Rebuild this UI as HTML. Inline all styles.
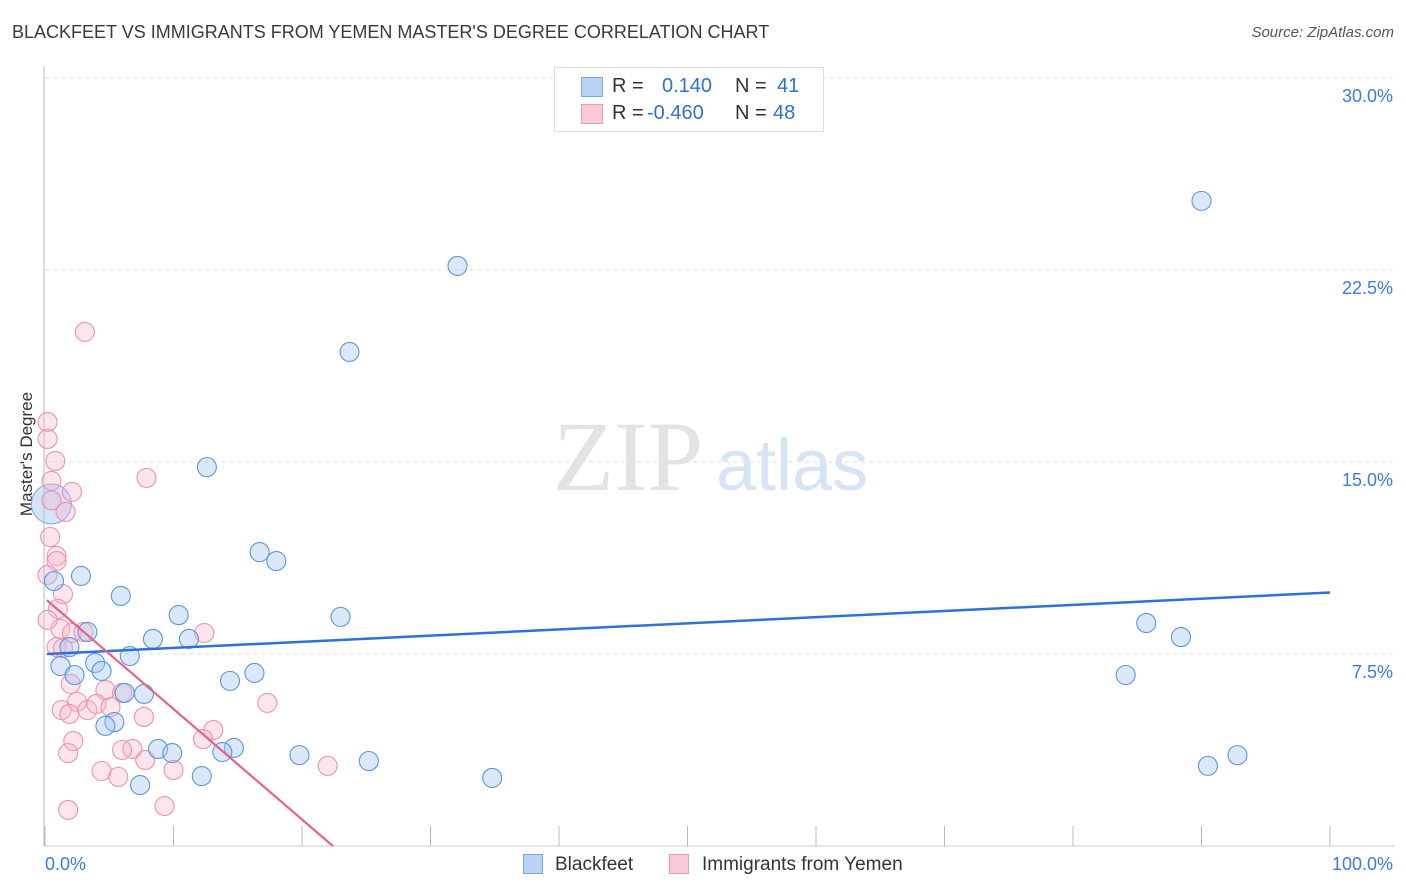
<!DOCTYPE html>
<html><head><meta charset="utf-8"><style>
body{margin:0;background:#fff;font-family:"Liberation Sans",sans-serif;}
#wrap{position:relative;width:1406px;height:892px;overflow:hidden;}
.t{position:absolute;white-space:nowrap;}
</style></head><body>
<div id="wrap">
<div class="t" style="left:12px;top:22px;font-size:18px;color:#3a3a3a;">BLACKFEET VS IMMIGRANTS FROM YEMEN MASTER'S DEGREE CORRELATION CHART</div>
<div class="t" style="right:12px;top:24px;font-size:15px;color:#555;font-style:italic;">Source: ZipAtlas.com</div>
<div class="t" style="left:-35px;top:444px;font-size:17px;color:#333;transform:rotate(-90deg);">Master's Degree</div>
<svg id="plot" width="1406" height="892" style="position:absolute;left:0;top:0"></svg>
<div style="position:absolute;left:554px;top:67px;width:268px;height:63px;border:1px solid #ddd;background:#fff;font-size:20px;">
 <div style="position:absolute;left:26px;top:9px;width:20px;height:18px;background:#b9d3f5;border:1px solid #7aa9e6;"></div>
 <div class="t" style="left:57px;top:7px;color:#333">R =</div>
 <div class="t" style="left:107px;top:7px;color:#2f6fd6">0.140</div>
 <div class="t" style="left:180px;top:7px;color:#333">N =</div>
 <div class="t" style="left:222px;top:7px;color:#2f6fd6">41</div>
 <div style="position:absolute;left:26px;top:36px;width:20px;height:18px;background:#f8c9d6;border:1px solid #ee9ab2;"></div>
 <div class="t" style="left:57px;top:34px;color:#333">R =</div>
 <div class="t" style="left:92px;top:34px;color:#2f6fd6">-0.460</div>
 <div class="t" style="left:180px;top:34px;color:#333">N =</div>
 <div class="t" style="left:218px;top:34px;color:#2f6fd6">48</div>
</div>
<div style="position:absolute;left:523px;top:854px;width:20px;height:20px;background:#b9d3f5;border:1px solid #7aa9e6;box-sizing:border-box"></div>
<div class="t" style="left:555px;top:854px;font-size:19px;color:#333">Blackfeet</div>
<div style="position:absolute;left:669px;top:854px;width:20px;height:20px;background:#f8c9d6;border:1px solid #ee9ab2;box-sizing:border-box"></div>
<div class="t" style="left:702px;top:854px;font-size:19px;color:#333">Immigrants from Yemen</div>
</div>
<script>
const blueX=[32.1,23.7,90.0,12.6,16.7,18.0,2.8,0.7,5.9,10.4,23.0,8.4,11.2,3.3,1.9,6.6,1.2,3.9,4.4,2.3,16.3,14.4,6.2,7.7,5.4,4.7,8.8,9.9,14.7,13.8,19.8,25.2,12.2,7.4,34.8,85.7,88.4,84.1,90.5,92.8];
const blueY=[22.66,19.3,25.2,14.8,11.48,11.13,10.55,10.35,9.77,9.02,8.95,8.09,8.09,8.36,7.77,7.42,7.03,7.15,6.84,6.68,6.76,6.45,5.98,5.94,4.84,4.69,3.79,3.63,3.83,3.67,3.55,3.32,2.73,2.38,2.66,8.71,8.16,6.68,3.13,3.55];
const bigBlue=[0.5,13.36];
const pinkX=[3.1,0.2,0.2,0.8,0.5,2.1,1.6,0.4,0.9,0.9,0.2,1.4,1.0,7.9,1.2,2.1,0.9,12.4,1.4,3.0,2.0,4.7,6.0,2.5,1.3,1.9,3.3,4.0,5.1,17.3,7.7,13.1,12.3,2.2,1.8,6.8,6.0,7.8,10.0,4.4,5.7,22.0,1.8,9.3,0.5,0.2];
const pinkY=[20.08,16.56,15.9,15.04,14.26,13.83,13.05,12.07,11.33,11.13,10.59,9.84,9.26,14.38,8.48,8.32,7.77,8.32,7.73,8.36,6.33,6.09,5.98,5.63,5.31,5.16,5.31,5.55,5.43,5.59,5.04,4.53,4.18,4.10,3.63,3.79,3.75,3.36,2.97,2.93,2.70,3.13,1.41,1.56,13.5,8.83];
const blueTrend=[[0.15,7.5],[100,9.9]];
const pinkTrend=[[0.15,9.6],[22.4,0]];
const yTicks=[7.5,15,22.5,30];
const yTickLabels=["7.5%","15.0%","22.5%","30.0%"];
const xTicks=[0,10,20,30,40,50,60,70,80,90,100];
const xs=v=>45+v*12.85, ys=v=>846-v*25.6;
const svg=document.getElementById('plot'),NS='http://www.w3.org/2000/svg';
function mk(tag,a,name){const e=document.createElementNS(NS,tag);for(const k in a)e.setAttribute(k,a[k]);


svg.appendChild(e);return e;}
yTicks.forEach((v,i)=>{mk('line',{x1:45,x2:1395,y1:ys(v),y2:ys(v),stroke:'#ddd','stroke-dasharray':'4,4'},'gridline');
const t=mk('text',{x:1393,y:ys(v)+24,'text-anchor':'end','font-size':18,fill:'#3d7bd9','font-family':'Liberation Sans'},'y-tick-label');t.textContent=yTickLabels[i];});
mk('line',{x1:44,x2:44,y1:66,y2:846,stroke:'#bbb'},'y-axis');
mk('line',{x1:44,x2:1395,y1:846,y2:846,stroke:'#ccc'},'x-axis');
xTicks.forEach(v=>mk('line',{x1:xs(v),x2:xs(v),y1:826,y2:846,stroke:'#bbb'},'x-tick'));
let t=mk('text',{x:45,y:870,'font-size':18,fill:'#3d7bd9','font-family':'Liberation Sans'},'x-tick-label');t.textContent='0.0%';
t=mk('text',{x:1393,y:870,'text-anchor':'end','font-size':18,fill:'#3d7bd9','font-family':'Liberation Sans'},'x-tick-label');t.textContent='100.0%';
t=mk('text',{x:553,y:490,'font-size':100,fill:'#e3e3e3','font-family':'Liberation Serif'},'watermark-zip');t.textContent='ZIP';
t=mk('text',{x:716,y:490,'font-size':72,fill:'#d6e4f6','font-family':'Liberation Sans'},'watermark-atlas');t.textContent='atlas';
mk('circle',{cx:xs(bigBlue[0]),cy:ys(bigBlue[1]),r:20,fill:'rgba(170,200,240,0.5)',stroke:'#7aa9e6'},'blackfeet-large-point');
pinkX.forEach((x,i)=>mk('circle',{cx:xs(x),cy:ys(pinkY[i]),r:9.5,fill:'rgba(246,180,200,0.35)',stroke:'#ee92ad','stroke-width':1.1},'yemen-point'));
blueX.forEach((x,i)=>mk('circle',{cx:xs(x),cy:ys(blueY[i]),r:9.5,fill:'rgba(164,198,240,0.4)',stroke:'#5d95df','stroke-width':1.1},'blackfeet-point'));
mk('line',{x1:xs(blueTrend[0][0]),y1:ys(blueTrend[0][1]),x2:xs(blueTrend[1][0]),y2:ys(blueTrend[1][1]),stroke:'#2d72d9','stroke-width':2.5},'blackfeet-trend-line');
mk('line',{x1:xs(pinkTrend[0][0]),y1:ys(pinkTrend[0][1]),x2:xs(pinkTrend[1][0]),y2:ys(pinkTrend[1][1]),stroke:'#e8608f','stroke-width':2.2},'yemen-trend-line');
</script>
</body></html>
